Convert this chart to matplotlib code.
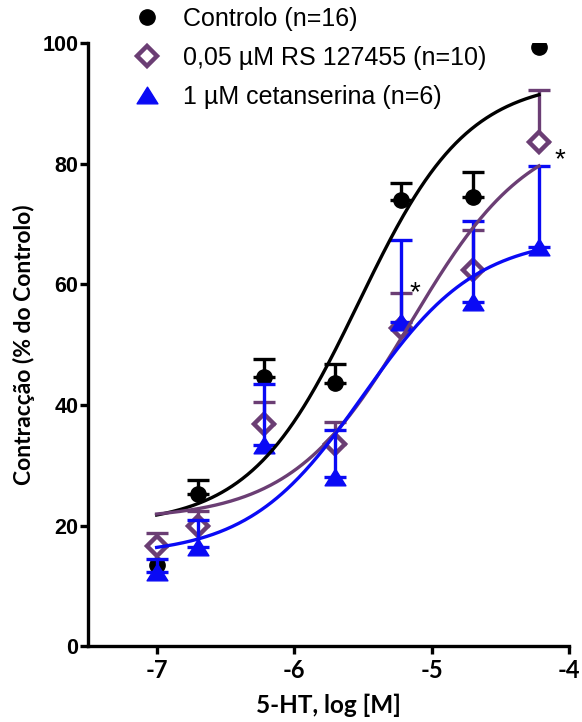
import numpy as np
import matplotlib
matplotlib.use("Agg")
import matplotlib.pyplot as plt
from matplotlib.lines import Line2D
from matplotlib.path import Path

# 5-HT concentrations, log [M]
log_conc = [-7.0, -6.7, -6.22, -5.7, -5.22, -4.7, -4.22]

# Mean contraction (% of control) and upper SEM for each group (0 = no bar drawn)
controlo_mean = [13.4, 25.2, 44.6, 43.6, 73.9, 74.5, 99.3]
controlo_sem = [0.0, 2.3, 3.0, 3.2, 2.9, 4.1, 0.0]

rs_mean = [16.6, 19.9, 36.8, 33.6, 52.7, 62.4, 83.6]
rs_sem = [2.2, 2.5, 3.7, 3.6, 5.8, 6.6, 8.6]

cet_mean = [12.3, 16.5, 33.3, 28.1, 53.8, 57.1, 66.2]
cet_sem = [2.2, 4.5, 10.1, 7.7, 13.6, 13.4, 13.4]

# Fitted sigmoid parameters: bottom, top, logEC50, Hill slope
controlo_fit = [20.0, 94.0, -5.53, 1.1]
rs_fit = [21.0, 86.5, -5.15, 1.0]
cet_fit = [15.0, 68.0, -5.5, 1.05]

legend_labels = ["Controlo (n=16)", "0,05 \u00b5M RS 127455 (n=10)",
                 "1 \u00b5M cetanserina (n=6)"]

# Significance markers: (x, y)
sig_marks = [(-5.12, 58.5), (-4.07, 80.5)]

BLACK = "#000000"
PURPLE = "#6B3E74"
BLUE = "#0A0AF5"

# Slightly flattened up-pointing triangle
tri = Path([(0, 0.8), (-1, -0.8), (1, -0.8), (0, 0.8)],
           [Path.MOVETO, Path.LINETO, Path.LINETO, Path.CLOSEPOLY])


def sigmoid(x, p):
    b, t, ec, h = p
    return b + (t - b) / (1.0 + 10 ** ((ec - x) * h))


fig = plt.figure(figsize=(5.82, 7.22), dpi=100)
ax = fig.add_axes([0.151, 0.105, 0.827, 0.8355])

xs = np.linspace(min(log_conc), max(log_conc), 300)
x = np.array(log_conc)

groups = [
    (controlo_mean, controlo_sem, controlo_fit, BLACK,
     dict(marker="o", markersize=11, markerfacecolor=BLACK, markeredgecolor=BLACK)),
    (rs_mean, rs_sem, rs_fit, PURPLE,
     dict(marker="D", markersize=10.5, markerfacecolor="white",
          markeredgecolor=PURPLE, markeredgewidth=3.2)),
    (cet_mean, cet_sem, cet_fit, BLUE,
     dict(marker=tri, markersize=15, markerfacecolor=BLUE, markeredgecolor=BLUE)),
]

handles = []
for i, (mean, sem, fit, col, mk) in enumerate(groups):
    mean = np.array(mean)
    sem = np.array(sem)
    has_bar = sem > 0
    ax.errorbar(x[has_bar], mean[has_bar],
                yerr=[np.zeros(has_bar.sum()), sem[has_bar]], fmt="none",
                ecolor=col, elinewidth=2.4, capsize=8, capthick=2.4,
                zorder=3 + i * 2)
    ax.plot(x, mean, linestyle="none", zorder=4 + i * 2, **mk)
    ax.plot(xs, sigmoid(xs, fit), color=col, linewidth=2.4, zorder=10 + i)
    handles.append(Line2D([], [], linestyle="none", **mk))

for sx, sy in sig_marks:
    ax.text(sx, sy, "*", fontsize=20, ha="center", va="center",
            family="Liberation Sans", zorder=20)

ax.set_xlim(-7.5, -4)
ax.set_ylim(0, 100)
ax.set_xticks([-7, -6, -5, -4])
ax.set_xticklabels(["-7", "-6", "-5", "-4"])
ax.set_yticks([0, 20, 40, 60, 80, 100])

for side in ["top", "right"]:
    ax.spines[side].set_visible(False)
for side in ["left", "bottom"]:
    ax.spines[side].set_linewidth(2.4)
ax.tick_params(axis="both", direction="out", length=5.5, width=2.4)
ax.tick_params(axis="y", pad=1.5)
ax.tick_params(axis="x", pad=4)
for lab in ax.get_xticklabels():
    lab.set_fontfamily("Lato")
    lab.set_fontweight("bold")
    lab.set_fontsize(17)
for lab in ax.get_yticklabels():
    lab.set_fontfamily("Liberation Sans")
    lab.set_fontweight("bold")
    lab.set_fontsize(15.5)

ax.set_xlabel("5-HT, log [M]", fontsize=17.5, fontweight="bold",
              family="Lato", labelpad=8)
ax.set_ylabel("Contracção (% do Controlo)", fontsize=16.5, fontweight="bold",
              family="Lato", labelpad=5)

leg = ax.legend(handles, legend_labels, loc="upper left",
                bbox_to_anchor=(132 / 582, 1 - 7 / 722),
                bbox_transform=fig.transFigure, frameon=False,
                prop={"family": "Liberation Sans", "size": 18},
                handlelength=1.2, handletextpad=0.84, labelspacing=0.6,
                borderpad=0, borderaxespad=0)
leg.set_zorder(30)

fig.savefig("out.png", dpi=100)
